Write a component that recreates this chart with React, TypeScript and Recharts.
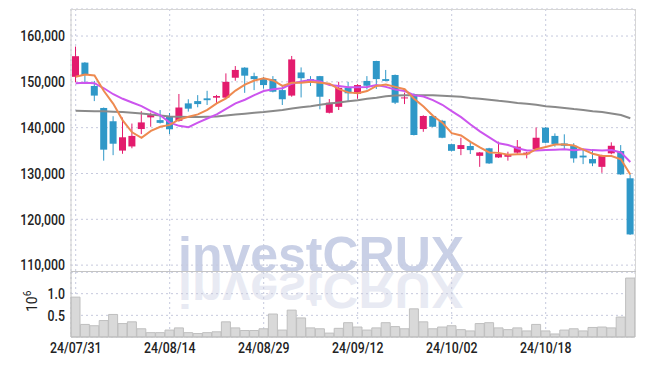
import React from 'react';
import { ComposedChart, BarChart, Bar, Line, XAxis, YAxis, CartesianGrid } from 'recharts';

const DATES = [
  '24/07/31', '24/08/01', '24/08/02', '24/08/05', '24/08/06', '24/08/07', '24/08/08', '24/08/09', '24/08/12', '24/08/13',
  '24/08/14', '24/08/16', '24/08/19', '24/08/20', '24/08/21', '24/08/22', '24/08/23', '24/08/26', '24/08/27', '24/08/28',
  '24/08/29', '24/08/30', '24/09/02', '24/09/03', '24/09/04', '24/09/05', '24/09/06', '24/09/09', '24/09/10', '24/09/11',
  '24/09/12', '24/09/13', '24/09/19', '24/09/20', '24/09/23', '24/09/24', '24/09/25', '24/09/26', '24/09/27', '24/09/30',
  '24/10/02', '24/10/04', '24/10/07', '24/10/08', '24/10/10', '24/10/11', '24/10/14', '24/10/15', '24/10/16', '24/10/17',
  '24/10/18', '24/10/21', '24/10/22', '24/10/23', '24/10/24', '24/10/25', '24/10/28', '24/10/29', '24/10/30', '24/10/31',
];

const OPEN = [
  151100, 154200, 149100, 144300, 141400, 135000, 135900, 139700, 142250, 141650,
  142550, 141500, 145300, 145800, 146400, 146550, 146550, 150900, 153100, 151250,
  150600, 150600, 148200, 147000, 152050, 150600, 151250, 143250, 144550, 148700,
  147400, 150200, 154550, 150600, 151500, 146400, 147250, 139700, 142550, 141500,
  136400, 135350, 136000, 133850, 135500, 133500, 133650, 134550, 134200, 135350,
  140000, 138200, 136550, 136050, 133900, 133150, 131450, 134400, 134900, 128950,
];
const HIGH = [
  157700, 154300, 150200, 144400, 142500, 142200, 140900, 143600, 143300, 143850,
  143200, 147350, 146200, 147100, 148050, 147150, 151850, 153450, 153200, 152000,
  151100, 151250, 149300, 155650, 153150, 151250, 151300, 146250, 150000, 150000,
  149500, 151250, 154600, 152600, 151600, 147650, 147500, 142700, 142800, 141700,
  136500, 137800, 136950, 134700, 135600, 136950, 134750, 137300, 134700, 140050,
  140100, 138750, 138550, 136600, 135350, 135300, 134100, 136800, 136200, 129800,
];
const LOW = [
  149900, 149700, 145800, 132800, 134000, 134300, 135500, 138600, 140200, 140900,
  138600, 141300, 143500, 144450, 144950, 145300, 146400, 150250, 147600, 148200,
  148500, 147700, 144950, 146750, 146600, 149100, 144000, 143100, 143850, 145650,
  146300, 148350, 148450, 150100, 145150, 145150, 138300, 139100, 140100, 137700,
  134800, 134000, 134250, 131450, 132100, 133400, 132800, 134300, 133300, 135200,
  136600, 135850, 135350, 132350, 132050, 131600, 130150, 134200, 129700, 116600,
];
const CLOSE = [
  155600, 151500, 147000, 135200, 136500, 137900, 138200, 141150, 142750, 141050,
  139650, 144400, 144150, 145150, 146000, 146900, 150000, 152600, 151350, 150600,
  149300, 147850, 146200, 154900, 150800, 150250, 146750, 145450, 148700, 147500,
  149300, 149150, 150600, 150200, 145450, 146600, 138400, 142550, 140200, 137800,
  134950, 136200, 135100, 134600, 132200, 134250, 134200, 135850, 134550, 137800,
  136700, 136450, 136050, 133300, 133500, 132200, 134000, 136050, 129800, 116700,
];

const MA5 = [
  151100, 151600, 151400, 148000, 145200, 141600, 139000, 137800, 139300, 140200,
  140600, 141800, 142400, 142900, 143900, 145300, 146400, 148100, 149400, 150300,
  150800, 150300, 149100, 149800, 149800, 150000, 149800, 149600, 148400, 147700,
  147500, 148000, 149100, 149400, 148900, 148400, 146300, 144600, 142600, 141100,
  138800, 138300, 136900, 135700, 134600, 134500, 134100, 134200, 134200, 135300,
  135800, 136300, 136300, 136100, 135200, 134300, 133800, 133800, 133100, 129800,
];
const MA10 = [
  149700, 149800, 149700, 148600, 147300, 146300, 145500, 144700, 143600, 142700,
  141100, 140400, 140100, 141100, 142000, 142900, 144100, 145300, 146100, 147100,
  148000, 148400, 148600, 149600, 150100, 150400, 150100, 149300, 149100, 148800,
  148800, 148900, 149300, 148900, 148300, 148000, 147100, 146800, 146000, 145000,
  143600, 142300, 140700, 139200, 137900, 136600, 136200, 135500, 135000, 135000,
  135100, 135200, 135300, 135100, 135300, 135100, 135000, 135100, 134600, 132500,
];
const MA_LONG = [
  143700, 143650, 143600, 143600, 143500, 143400, 143250, 143100, 142850, 142650,
  142450, 142400, 142350, 142350, 142400, 142450, 142650, 142850, 143050, 143250,
  143400, 143650, 143850, 144200, 144450, 144700, 145000, 145250, 145500, 145750,
  146000, 146300, 146550, 146850, 147000, 147100, 147100, 147100, 147050, 146950,
  146850, 146750, 146500, 146300, 146100, 145850, 145650, 145400, 145200, 145000,
  144700, 144500, 144300, 144050, 143850, 143600, 143400, 143100, 142750, 142050,
];

const VOLUME = [
  0.92, 0.29, 0.26, 0.38, 0.52, 0.31, 0.35, 0.19, 0.10, 0.10,
  0.16, 0.21, 0.10, 0.08, 0.10, 0.12, 0.35, 0.21, 0.15, 0.15,
  0.19, 0.53, 0.16, 0.62, 0.44, 0.21, 0.19, 0.09, 0.20, 0.33,
  0.23, 0.16, 0.21, 0.33, 0.24, 0.19, 0.65, 0.35, 0.19, 0.23,
  0.26, 0.17, 0.14, 0.31, 0.33, 0.21, 0.17, 0.21, 0.14, 0.29,
  0.14, 0.07, 0.16, 0.19, 0.14, 0.22, 0.23, 0.21, 0.46, 1.36,
];

const X_TICKS = ['24/07/31', '24/08/14', '24/08/29', '24/09/12', '24/10/02', '24/10/18'];
const PRICE_TICKS = [110000, 120000, 130000, 140000, 150000, 160000];
const VOLUME_TICKS = [0.5, 1.0];

const UP = '#e31b6d';
const DOWN = '#2f98c8';
const FONT = "Roboto, 'Liberation Sans', sans-serif";
const GRID = '#c6c9dd';
const SQUEEZE = 0.85;

const priceData = DATES.map((date, i) => ({
  date,
  open: OPEN[i],
  high: HIGH[i],
  low: LOW[i],
  close: CLOSE[i],
  ma5: MA5[i],
  ma10: MA10[i],
  maLong: MA_LONG[i],
}));

const volumeData = DATES.map((date, i) => ({ date, volume: VOLUME[i] }));

const Candle = (props: any) => {
  const { x, y, width, height, payload } = props;
  if (!payload) return null;
  const { open, close, high, low } = payload;
  const top = Math.min(y, y + height);
  const h = Math.abs(height);
  const ratio = high === low ? 0 : h / (high - low);
  const up = close >= open;
  const color = up ? UP : DOWN;
  const bodyTop = top + (high - Math.max(open, close)) * ratio;
  const bodyH = Math.max(1, Math.abs(open - close) * ratio);
  const cx = x + width / 2;
  return (
    <g>
      <line x1={cx} x2={cx} y1={top} y2={top + h} stroke={color} strokeWidth={1} />
      <rect x={x} y={bodyTop} width={width} height={bodyH} fill={color} />
    </g>
  );
};

const makeYTick = (fmt: (v: number) => string) => (props: any) => {
  const { x, y, payload } = props;
  return (
    <g transform={`translate(${x},${y})`}>
      <text
        transform={`scale(${SQUEEZE},1)`}
        textAnchor="end"
        dy="0.36em"
        fontFamily={FONT}
        fontWeight={500}
        fontSize={14.5}
        fill="#222"
      >
        {fmt(payload.value)}
      </text>
    </g>
  );
};

const XTick = (props: any) => {
  const { x, y, payload } = props;
  return (
    <g transform={`translate(${x},${y})`}>
      <text
        transform={`scale(${SQUEEZE},1)`}
        textAnchor="middle"
        dy="0.72em"
        fontFamily={FONT}
        fontWeight={500}
        fontSize={14.5}
        fill="#222"
      >
        {payload.value}
      </text>
    </g>
  );
};

const PriceTick = makeYTick((v) => v.toLocaleString('en-US'));
const VolumeTick = makeYTick((v) => v.toFixed(1));

export default function App() {
  return (
    <div style={{ position: 'absolute', left: 0, top: 0, width: 645, height: 366, background: '#fff' }}>
      <svg width={645} height={366} style={{ position: 'absolute', left: 0, top: 0 }}>
        <text
          x={178}
          y={272}
          fontFamily="'Liberation Sans', Arial, sans-serif"
          fontWeight="bold"
          fontSize={50}
          fill="#c9d0e6"
        >
          investCRUX
        </text>
        <text
          x={178}
          y={272}
          transform="translate(0,545) scale(1,-1)"
          fontFamily="'Liberation Sans', Arial, sans-serif"
          fontWeight="bold"
          fontSize={50}
          fill="#e8eaf3"
        >
          investCRUX
        </text>
      </svg>

      <div style={{ position: 'absolute', left: 0, top: 0 }}>
        <ComposedChart
          width={645}
          height={282}
          data={priceData}
          margin={{ top: 9, right: 10, bottom: 10, left: 0 }}
          barCategoryGap={0}
        >
          <CartesianGrid strokeDasharray="2 3" stroke={GRID} />
          <XAxis dataKey="date" hide ticks={X_TICKS} interval={0} />
          <YAxis
            width={71}
            domain={[108500, 165900]}
            ticks={PRICE_TICKS}
            interval={0}
            allowDataOverflow
            axisLine={{ stroke: '#cfcfcf' }}
            tickLine={false}
            tickSize={4}
            tickMargin={2}
            tick={<PriceTick />}
          />
          <Bar
            dataKey={(d: any) => [d.low, d.high]}
            shape={<Candle />}
            barSize={7}
            isAnimationActive={false}
          />
          <Line type="linear" dataKey="maLong" stroke="#8a8a8a" strokeWidth={2} dot={false} isAnimationActive={false} />
          <Line type="linear" dataKey="ma10" stroke="#cc55ee" strokeWidth={2} dot={false} isAnimationActive={false} />
          <Line type="linear" dataKey="ma5" stroke="#ee8a50" strokeWidth={2} dot={false} isAnimationActive={false} />
        </ComposedChart>
      </div>

      <div style={{ position: 'absolute', left: 0, top: 272 }}>
        <BarChart
          width={645}
          height={94}
          data={volumeData}
          margin={{ top: 0, right: 10, bottom: 0, left: 0 }}
          barCategoryGap={0}
        >
          <CartesianGrid strokeDasharray="2 3" stroke={GRID} />
          <XAxis
            dataKey="date"
            ticks={X_TICKS}
            interval={0}
            height={29}
            axisLine={{ stroke: '#bdbdbd' }}
            tickLine={false}
            tickSize={4}
            tickMargin={2}
            tick={<XTick />}
          />
          <YAxis
            width={71}
            domain={[0, 1.5]}
            ticks={VOLUME_TICKS}
            interval={0}
            axisLine={{ stroke: '#bdbdbd' }}
            tickLine={false}
            tickSize={4}
            tickMargin={2}
            tick={<VolumeTick />}
          />
          <Bar dataKey="volume" fill="#d9d9d9" stroke="#bfbfbf" strokeWidth={1} isAnimationActive={false} />
        </BarChart>
      </div>

      <div style={{ position: 'absolute', left: 71, top: 9, width: 565, height: 328, borderTop: '1px solid #d6d6d6', borderRight: '1px solid #d6d6d6', boxSizing: 'border-box', pointerEvents: 'none' }} />
      <div style={{ position: 'absolute', left: 71, top: 271, width: 565, height: 1, background: '#c4c4c4' }} />

      <svg width={60} height={366} style={{ position: 'absolute', left: 0, top: 0 }}>
        <text transform="translate(37,312) rotate(-90)" fontFamily={FONT} fontSize={14} fill="#222">
          10<tspan dy={-6} fontSize={10}>6</tspan>
        </text>
      </svg>
    </div>
  );
}
